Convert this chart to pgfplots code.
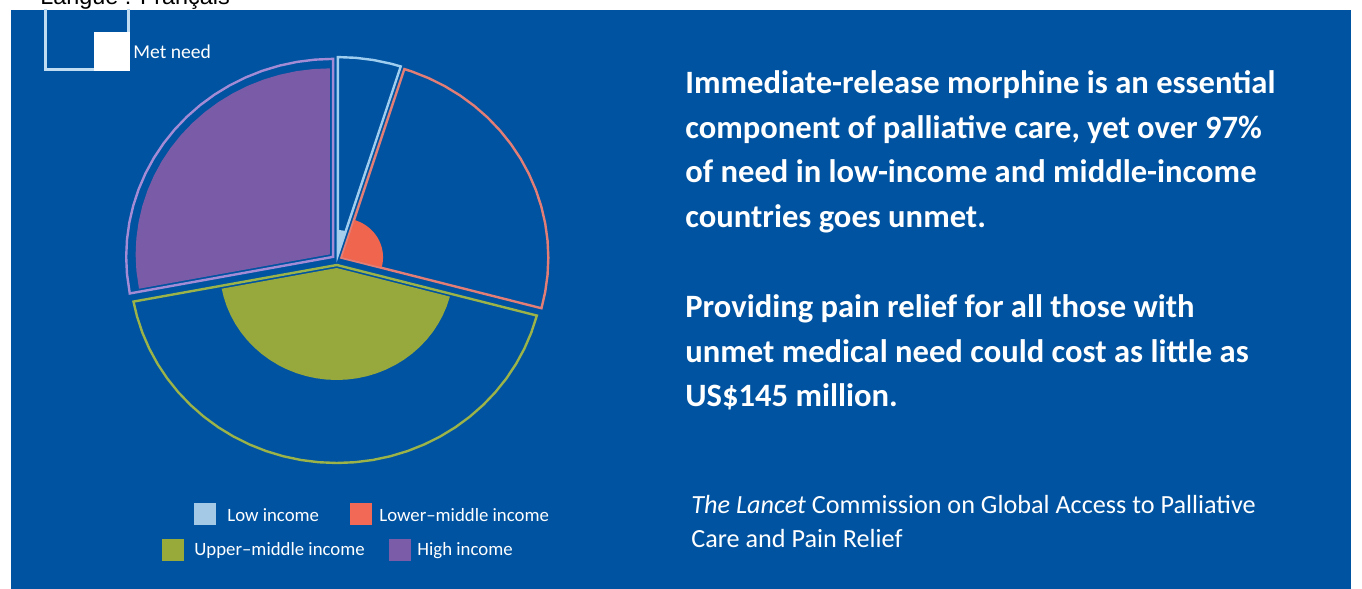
\documentclass[border=0pt]{standalone}
\usepackage{pgfplots}
\pgfplotsset{compat=1.18}
\usepackage{pgfplotstable}
\usepackage{fontspec}
\setmainfont{Carlito}
\newfontfamily\langfont{Liberation Sans}

\definecolor{bgblue}{HTML}{0053A0}
\definecolor{keyline}{HTML}{C0DCF2}
\definecolor{lowfill}{HTML}{A6CFEE}
\definecolor{lowline}{HTML}{9FCDF0}
\definecolor{redfill}{HTML}{F0654E}
\definecolor{redline}{HTML}{E27E75}
\definecolor{greenfill}{HTML}{97A93D}
\definecolor{greenline}{HTML}{9BB348}
\definecolor{purplefill}{HTML}{7A5BA7}
\definecolor{purpleline}{HTML}{A48BD6}
\definecolor{keylow}{HTML}{A3C9E6}
\definecolor{keyred}{HTML}{F26A55}
\definecolor{keygreen}{HTML}{98AA3A}
\definecolor{keypurple}{HTML}{7B5CA8}

% a = angle (deg), t = total need radius, m = met need radius
\pgfplotstableread{
a t m
90 0 0
90 198 24
85 198 24
80 198 24
75 198 24
72.3 198 24
72.3 0 0
}\low
\pgfplotstableread{
a t m
72.3 0 0
72.3 198 39
70 198 39
65 198 39
60 198 39
55 198 39
50 198 39
45 198 39
40 198 39
35 198 39
30 198 39
25 198 39
20 198 39
15 198 39
10 198 39
5 198 39
0 198 39
-5 198 39
-10 198 39
-14.8 198 39
-14.8 0 0
}\lowmid
\pgfplotstableread{
a t m
-14.8 0 0
-14.8 198 112
-20 198 112
-25 198 112
-30 198 112
-35 198 112
-40 198 112
-45 198 112
-50 198 112
-55 198 112
-60 198 112
-65 198 112
-70 198 112
-75 198 112
-80 198 112
-85 198 112
-90 198 112
-95 198 112
-100 198 112
-105 198 112
-110 198 112
-115 198 112
-120 198 112
-125 198 112
-130 198 112
-135 198 112
-140 198 112
-145 198 112
-150 198 112
-155 198 112
-160 198 112
-165 198 112
-169.35 198 112
-169.35 0 0
}\uppmid
\pgfplotstableread{
a t m
190.65 0 0
190.65 198 186
185 198 186
180 198 186
175 198 186
170 198 186
165 198 186
160 198 186
155 198 186
150 198 186
145 198 186
140 198 186
135 198 186
130 198 186
125 198 186
120 198 186
115 198 186
110 198 186
105 198 186
100 198 186
95 198 186
90 198 186
90 0 0
}\high

\begin{document}
\begin{tikzpicture}
\begin{scope}[x=0.5pt,y=-0.5pt]
  \useasboundingbox (0,0) rectangle (1362,589);
  \fill[white] (0,0) rectangle (1362,589);
  \begin{scope}
    \clip (0,0) rectangle (1362,589);
    \node[anchor=base west, inner sep=0, text=black, font=\langfont\fontsize{11.7}{14}\selectfont] at (40,4) {Langue : Français};
  \end{scope}
  \fill[bgblue] (11,9.5) rectangle (1351,589);
  \begin{scope}
    \clip (11,9.5) rectangle (1351,589);
    \draw[keyline, line width=1.2pt] (45.5,-20) rectangle (128.5,69.5);
  \end{scope}
  \fill[white] (94,32) rectangle (129.5,70.5);
  \node[anchor=base west, inner sep=0, text=white, font=\fontsize{9.8}{12}\selectfont] at (133,58.5) {Met need};

  % headline
  \begin{scope}[every node/.style={anchor=base west, inner sep=0, text=white, font=\bfseries\fontsize{16.3}{20}\selectfont}]
    \node at (685,93) {Immediate-release morphine is an essential};
    \node at (685,138) {component of palliative care, yet over 97\%};
    \node at (685,182) {of need in low-income and middle-income};
    \node at (685,227) {countries goes unmet.};
    \node at (685,317) {Providing pain relief for all those with};
    \node at (685,362) {unmet medical need could cost as little as};
    \node at (685,406) {US\$145 million.};
  \end{scope}
  \begin{scope}[every node/.style={anchor=base west, inner sep=0, text=white, font=\fontsize{13.1}{16}\selectfont}]
    \node at (691,513) {\textit{The Lancet} Commission on Global Access to Palliative};
    \node at (691,547) {Care and Pain Relief};
  \end{scope}

  % legend
  \fill[keylow] (194,503) rectangle (216,525);
  \fill[keyred] (350,503) rectangle (372,525);
  \fill[keygreen] (162,539) rectangle (184,561);
  \fill[keypurple] (389,539) rectangle (411,561);
  \begin{scope}[every node/.style={anchor=base west, inner sep=0, text=white, font=\fontsize{9.4}{12}\selectfont}]
    \node at (227,521) {Low income};
    \node at (379,521) {Lower–middle income};
    \node at (194,555) {Upper–middle income};
    \node at (417,555) {High income};
  \end{scope}
\end{scope}

\begin{axis}[
  at={(168.5pt,-130pt)}, anchor=center,
  scale only axis, width=229.9pt, height=220pt,
  xmin=-220, xmax=220, ymin=-220, ymax=220,
  axis lines=none, clip=false, data cs=polar,
]
  % high income
  \addplot[draw=purpleline, line width=1.2pt, shift={(141.2:2.5pt)}] table[x=a,y=t]{\high} -- cycle;
  \addplot[fill=purplefill, draw=none, shift={(141.2:4.5pt)}] table[x=a,y=m]{\high} -- cycle;
  % upper-middle income
  \addplot[draw=greenline, line width=1.2pt, shift={(-92:2.5pt)}] table[x=a,y=t]{\uppmid} -- cycle;
  \addplot[fill=greenfill, draw=none, shift={(-92:4pt)}] table[x=a,y=m]{\uppmid} -- cycle;
  % lower-middle income
  \addplot[draw=redline, line width=1.2pt, shift={(27.7:2.5pt)}] table[x=a,y=t]{\lowmid} -- cycle;
  \addplot[fill=redfill, draw=none, shift={(27.7:3pt)}] table[x=a,y=m]{\lowmid} -- cycle;
  % low income
  \addplot[draw=lowline, line width=1.2pt, shift={(80.7:2.5pt)}] table[x=a,y=t]{\low} -- cycle;
  \addplot[fill=lowfill, draw=none, shift={(80.7:3pt)}] table[x=a,y=m]{\low} -- cycle;
\end{axis}
\end{tikzpicture}
\end{document}
